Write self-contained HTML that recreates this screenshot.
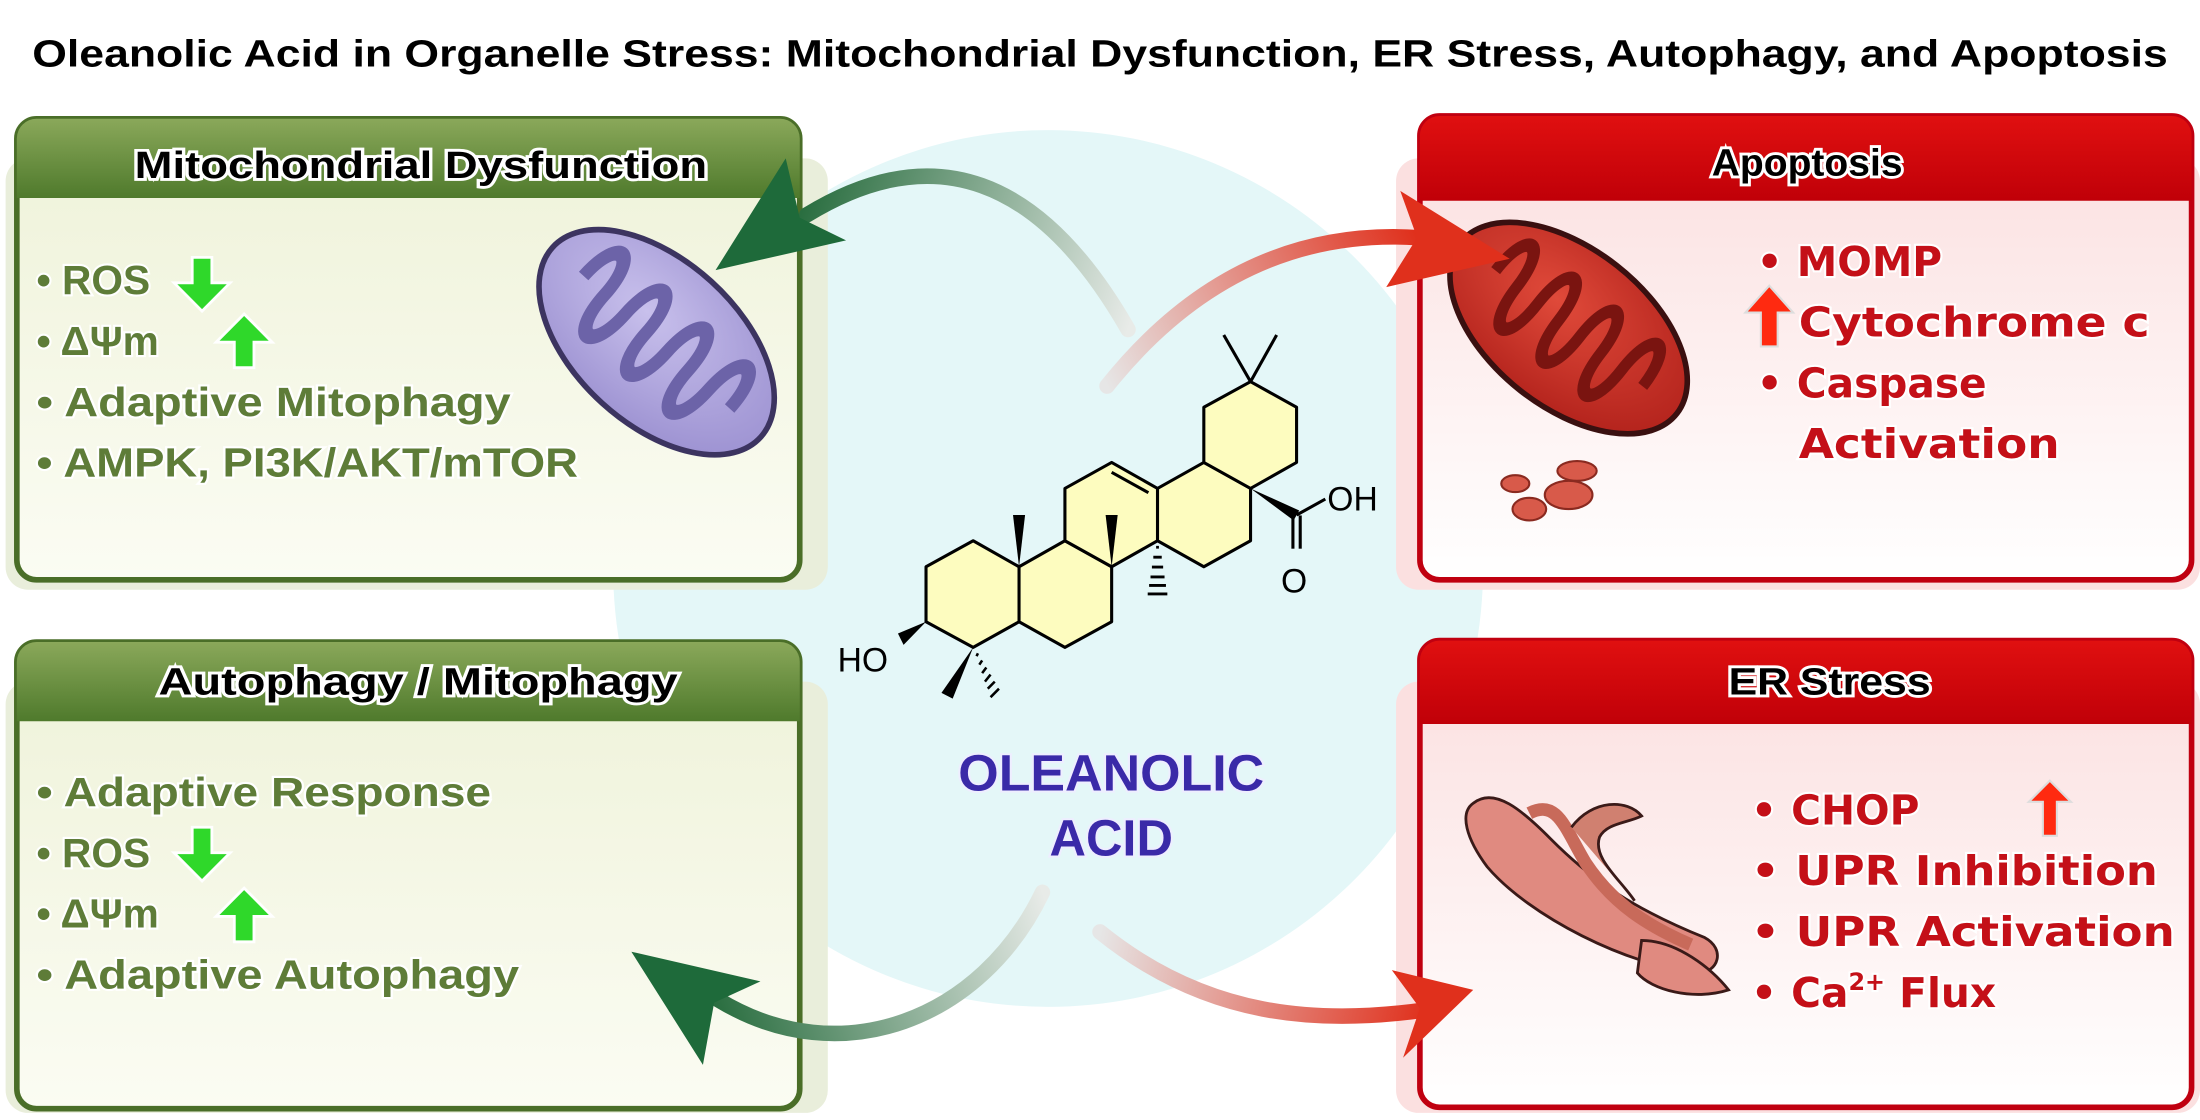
<!DOCTYPE html>
<html><head><meta charset="utf-8"><style>html,body{margin:0;padding:0;background:#fff}svg{display:block}</style></head>
<body>
<svg width="2200" height="1120" viewBox="0 0 1568 792" preserveAspectRatio="none" xmlns="http://www.w3.org/2000/svg">
<defs>
<linearGradient id="gh" x1="0" y1="0" x2="0" y2="1"><stop offset="0" stop-color="#8aa85a"/><stop offset="1" stop-color="#4f7a2c"/></linearGradient>
<linearGradient id="gb" x1="0" y1="0" x2="0" y2="1"><stop offset="0" stop-color="#eef2d8"/><stop offset="1" stop-color="#fbfcf3"/></linearGradient>
<linearGradient id="rh" x1="0" y1="0" x2="0" y2="1"><stop offset="0" stop-color="#e01010"/><stop offset="1" stop-color="#c00008"/></linearGradient>
<linearGradient id="rb" x1="0" y1="0" x2="0" y2="1"><stop offset="0" stop-color="#fbdede"/><stop offset="1" stop-color="#ffffff"/></linearGradient>
<linearGradient id="gaT" gradientUnits="userSpaceOnUse" x1="804" y1="233" x2="570" y2="154"><stop offset="0" stop-color="#e8ebe8"/><stop offset="1" stop-color="#2a6e40"/></linearGradient>
<linearGradient id="gaB" gradientUnits="userSpaceOnUse" x1="743" y1="631" x2="509" y2="709"><stop offset="0" stop-color="#e8ebe8"/><stop offset="1" stop-color="#2a6e40"/></linearGradient>
<linearGradient id="raT" gradientUnits="userSpaceOnUse" x1="789" y1="273" x2="1010" y2="168"><stop offset="0" stop-color="#e6e6e6"/><stop offset="1" stop-color="#e0301c"/></linearGradient>
<linearGradient id="raB" gradientUnits="userSpaceOnUse" x1="784" y1="659" x2="1017" y2="714"><stop offset="0" stop-color="#e6e6e6"/><stop offset="1" stop-color="#e0301c"/></linearGradient>
<radialGradient id="mp" cx="0.4" cy="0.4" r="0.7"><stop offset="0" stop-color="#c8c0ec"/><stop offset="1" stop-color="#9a8fd0"/></radialGradient>
<radialGradient id="mr" cx="0.4" cy="0.4" r="0.7"><stop offset="0" stop-color="#e04a3a"/><stop offset="1" stop-color="#b0201a"/></radialGradient>
</defs>
<rect width="1568" height="792" fill="#fff"/>
<circle cx="747" cy="402" r="310" fill="#e4f7f8"/>
<text x="784" y="47" text-anchor="middle" font-family="Liberation Sans, sans-serif" font-weight="bold" font-size="27" fill="#000" stroke="#fff" stroke-width="4" paint-order="stroke" textLength="1522" lengthAdjust="spacingAndGlyphs">Oleanolic Acid in Organelle Stress: Mitochondrial Dysfunction, ER Stress, Autophagy, and Apoptosis</text>

<!-- green panels -->
<g>
<rect x="4" y="112" width="586" height="305" rx="16" fill="#e9eedb"/>
<rect x="12" y="84" width="558" height="326" rx="14" fill="url(#gb)" stroke="#4a6e28" stroke-width="4"/>
<path d="M12 140 V98 a14 14 0 0 1 14 -14 H556 a14 14 0 0 1 14 14 V140 Z" fill="url(#gh)"/>
<text x="300" y="126" text-anchor="middle" font-family="Liberation Sans, sans-serif" font-weight="bold" font-size="27" fill="#000" stroke="#fff" stroke-width="4" paint-order="stroke" textLength="408" lengthAdjust="spacingAndGlyphs">Mitochondrial Dysfunction</text>
<rect x="4" y="482" width="586" height="305" rx="16" fill="#e9eedb"/>
<rect x="12" y="454" width="558" height="330" rx="14" fill="url(#gb)" stroke="#4a6e28" stroke-width="4"/>
<path d="M12 510 V468 a14 14 0 0 1 14 -14 H556 a14 14 0 0 1 14 14 V510 Z" fill="url(#gh)"/>
<text x="298" y="491" text-anchor="middle" font-family="Liberation Sans, sans-serif" font-weight="bold" font-size="27" fill="#000" stroke="#fff" stroke-width="4" paint-order="stroke" textLength="370" lengthAdjust="spacingAndGlyphs">Autophagy / Mitophagy</text>
</g>
<!-- red panels -->
<g>
<rect x="995" y="112" width="573" height="305" rx="16" fill="#fbe0e0"/>
<rect x="1012" y="82" width="550" height="328" rx="14" fill="url(#rb)" stroke="#c00010" stroke-width="4"/>
<path d="M1012 142 V96 a14 14 0 0 1 14 -14 H1548 a14 14 0 0 1 14 14 V142 Z" fill="url(#rh)"/>
<text x="1288" y="124" text-anchor="middle" font-family="Liberation Sans, sans-serif" font-weight="bold" font-size="27" fill="#000" stroke="#fff" stroke-width="4" paint-order="stroke" textLength="136" lengthAdjust="spacingAndGlyphs">Apoptosis</text>
<rect x="995" y="482" width="573" height="305" rx="16" fill="#fbe0e0"/>
<rect x="1012" y="453" width="550" height="330" rx="14" fill="url(#rb)" stroke="#c00010" stroke-width="4"/>
<path d="M1012 512 V467 a14 14 0 0 1 14 -14 H1548 a14 14 0 0 1 14 14 V512 Z" fill="url(#rh)"/>
<text x="1304" y="491" text-anchor="middle" font-family="Liberation Sans, sans-serif" font-weight="bold" font-size="27" fill="#000" stroke="#fff" stroke-width="4" paint-order="stroke" textLength="144" lengthAdjust="spacingAndGlyphs">ER Stress</text>
</g>

<!-- green texts -->
<g font-family="Liberation Sans, sans-serif" font-weight="bold" font-size="29" fill="#5e7c38" stroke="#fff" stroke-width="3" paint-order="stroke">
<text x="26" y="208">• ROS</text>
<text x="26" y="251">• ΔΨm</text>
<text x="26" y="294" textLength="338" lengthAdjust="spacingAndGlyphs">• Adaptive Mitophagy</text>
<text x="26" y="337" textLength="386" lengthAdjust="spacingAndGlyphs">• AMPK, PI3K/AKT/mTOR</text>
<text x="26" y="570" textLength="324" lengthAdjust="spacingAndGlyphs">• Adaptive Response</text>
<text x="26" y="613">• ROS</text>
<text x="26" y="656">• ΔΨm</text>
<text x="26" y="699" textLength="344" lengthAdjust="spacingAndGlyphs">• Adaptive Autophagy</text>
</g>
<!-- green arrows -->
<g fill="#2fd82a" stroke="#fff" stroke-width="2">
<path d="M137 182 h14 v18 h13 l-20 20 l-20 -20 h13 z"/>
<path d="M167 260 h14 v-18 h13 l-20 -20 l-20 20 h13 z"/>
<path d="M137 585 h14 v18 h13 l-20 20 l-20 -20 h13 z"/>
<path d="M167 666 h14 v-18 h13 l-20 -20 l-20 20 h13 z"/>
</g>

<!-- red texts -->
<g font-family="DejaVu Sans, sans-serif" font-weight="bold" font-size="29" fill="#c41018" stroke="#fff" stroke-width="3" paint-order="stroke">
<text x="1252" y="195">• MOMP</text>
<text x="1282" y="238" textLength="250" lengthAdjust="spacingAndGlyphs">Cytochrome c</text>
<text x="1252" y="281">• Caspase</text>
<text x="1282" y="324" textLength="186" lengthAdjust="spacingAndGlyphs">Activation</text>
<text x="1248" y="583">• CHOP</text>
<text x="1248" y="626" textLength="290" lengthAdjust="spacingAndGlyphs">• UPR Inhibition</text>
<text x="1248" y="669" textLength="302" lengthAdjust="spacingAndGlyphs">• UPR Activation</text>
<text x="1248" y="712">• Ca<tspan font-size="17" dy="-12">2+</tspan><tspan dy="12"> Flux</tspan></text>
</g>
<g fill="#ff2a10" stroke="#ddd" stroke-width="1.5">
<path d="M1255 245 h12 v-24 h11 l-17 -19 l-17 19 h11 z"/>
<path d="M1456 591 h10 v-24 h10 l-15 -15 l-15 15 h10 z"/>
</g>

<!-- mitochondria purple -->
<g transform="translate(468,242) rotate(42)">
<ellipse rx="100" ry="58" fill="url(#mp)" stroke="#3c3460" stroke-width="4"/>
<path d="M-70 0 c0 -30 20 -30 20 0 s20 30 20 0 s20 -30 20 0 s20 30 20 0 s20 -30 20 0 s20 30 20 0 s20 -30 20 0" fill="none" stroke="#6c63a8" stroke-width="9" transform="scale(1,1.3)"/>
</g>
<!-- mitochondria red -->
<g transform="translate(1118,232) rotate(38)">
<ellipse rx="98" ry="56" fill="url(#mr)" stroke="#3a1010" stroke-width="4"/>
<path d="M-66 0 c0 -30 19 -30 19 0 s19 30 19 0 s19 -30 19 0 s19 30 19 0 s19 -30 19 0 s19 30 19 0 s19 -30 19 0" fill="none" stroke="#7a1410" stroke-width="8" transform="scale(1,1.3)"/>
</g>
<g fill="#d85a4a" stroke="#8a2a20" stroke-width="1.5">
<ellipse cx="1124" cy="333" rx="14" ry="7"/><ellipse cx="1118" cy="350" rx="17" ry="10"/>
<ellipse cx="1090" cy="360" rx="12" ry="8"/><ellipse cx="1080" cy="342" rx="10" ry="6"/>
</g>
<!-- ER / golgi -->
<g stroke="#3a1a18" stroke-width="2">
<path d="M1050 568 c15 -12 35 5 55 25 c30 30 60 50 110 70 c15 8 10 25 -5 25 c-50 -5 -120 -40 -150 -75 c-15 -20 -20 -38 -10 -45 z" fill="#e08a80"/>
<path d="M1090 575 c20 -10 25 10 40 35 c20 30 45 45 75 58" fill="none" stroke="#c86a5a" stroke-width="9"/>
<path d="M1120 585 c15 -20 40 -20 50 -8 c-10 5 -25 5 -30 15 c-5 15 15 30 25 45" fill="#d08070"/>
<path d="M1170 665 c25 0 50 20 62 35 c-25 8 -55 0 -65 -12 z" fill="#e08a80"/>
</g>

<!-- curved arrows -->
<path d="M804 233 Q710 70 575 152" fill="none" stroke="url(#gaT)" stroke-width="11" stroke-linecap="round"/>
<path d="M510 191 L560 112 L570 154 L603 170 Z" fill="#1e6a3a"/>
<path d="M789 273 Q880 160 1010 168" fill="none" stroke="url(#raT)" stroke-width="11" stroke-linecap="round"/>
<path d="M1076 183 L998 135 L1010 168 L988 203 Z" fill="#e0301c"/>
<path d="M743 631 C700 720 600 760 512 707" fill="none" stroke="url(#gaB)" stroke-width="11" stroke-linecap="round"/>
<path d="M450 673 L542 694 L509 709 L501 753 Z" fill="#1e6a3a"/>
<path d="M784 659 C860 720 940 725 1017 714" fill="none" stroke="url(#raB)" stroke-width="11" stroke-linecap="round"/>
<path d="M1050 700 L992 686 L1012 713 L1000 748 Z" fill="#e0301c"/>

<!-- molecule -->
<g stroke="#000" stroke-width="2.2" stroke-linejoin="round" fill="#fdfcbf">
<polygon points="660,400.8 693.6,382.4 726.3,400.8 726.3,439.7 693.6,457.8 660,439.7"/>
<polygon points="726.3,400.8 759,382.4 792.3,400.8 792.3,439.7 759,457.8 726.3,439.7"/>
<polygon points="759,382.4 759,345.4 792.3,327 825,345.4 825,382.4 792.3,400.8"/>
<polygon points="825,345.4 858,327 891.3,345.4 891.3,382.4 858,400.8 825,382.4"/>
<polygon points="858,288 891.3,269.9 924.1,288 924.1,327 891.3,345.4 858,327"/>
</g>
<g stroke="#000" stroke-width="2.2" fill="none">
<line x1="792.3" y1="334" x2="818.5" y2="348.4"/>
<line x1="891.3" y1="269.9" x2="872.2" y2="236.9"/>
<line x1="891.3" y1="269.9" x2="909.9" y2="236.9"/>
<line x1="924.1" y1="364.2" x2="944.6" y2="352.9"/>
<line x1="921.5" y1="364.5" x2="921.5" y2="388"/>
<line x1="926.7" y1="364.5" x2="926.7" y2="388"/>
<path d="M824 387 h2 M822 394 h6 M821 401 h8 M820 408 h10 M819 414 h12 M818 420 h14" stroke-width="2"/>
<path d="M697 462 l-1 2 M700 467 l-2 3 M703 472 l-3 4 M706 477 l-4 5 M709 482 l-5 5 M712 487 l-6 6" stroke-width="1.8"/>
</g>
<g fill="#000">
<polygon points="726.3,400.8 722,364.2 730.6,364.2"/>
<polygon points="792.3,400.8 788,364.2 796.6,364.2"/>
<polygon points="891.3,345.4 926,361 922,368"/>
<polygon points="660,439.7 640,448 644,456"/>
<polygon points="693.6,457.8 671,490 679,494"/>
</g>
<g font-family="Liberation Sans, sans-serif" font-size="24" fill="#000">
<text x="946" y="361">OH</text>
<text x="913" y="419">O</text>
<text x="597" y="475">HO</text>
</g>

<g font-family="Liberation Sans, sans-serif" font-weight="bold" font-size="36" fill="#3a2aa8" text-anchor="middle" stroke="#eef" stroke-width="3" paint-order="stroke">
<text x="792" y="559" textLength="218" lengthAdjust="spacingAndGlyphs">OLEANOLIC</text>
<text x="792" y="605">ACID</text>
</g>
</svg>
</body></html>
